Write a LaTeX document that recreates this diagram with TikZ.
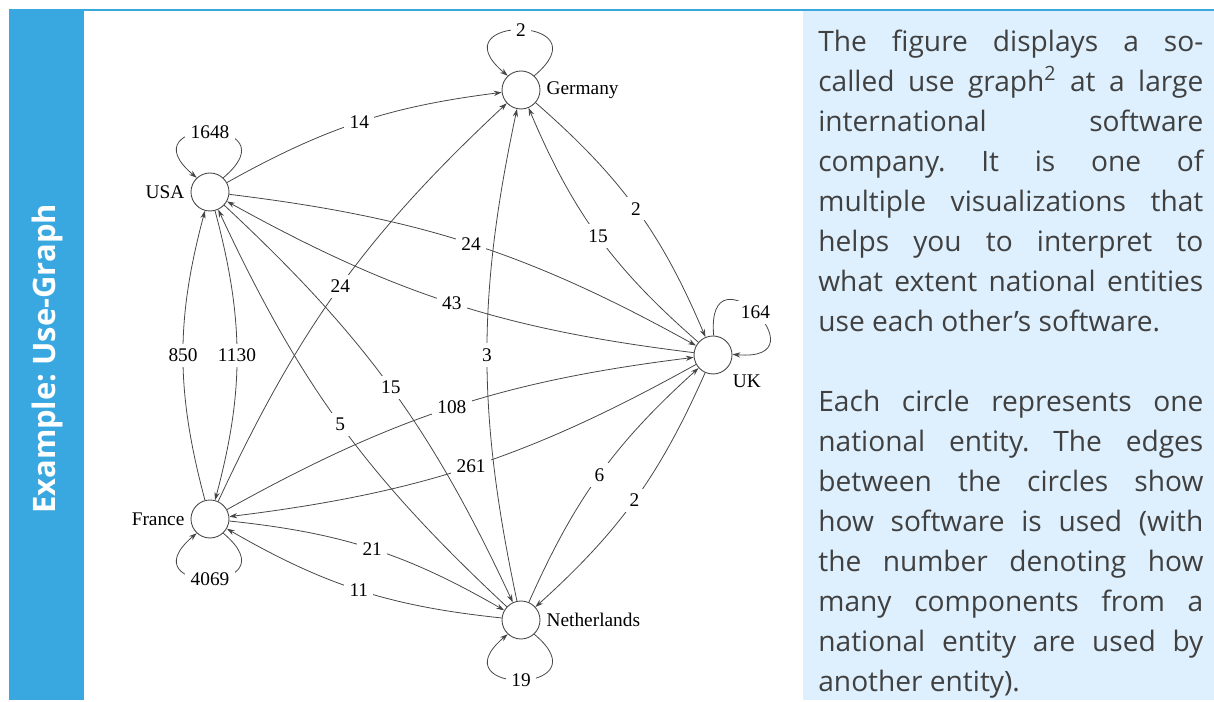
\documentclass[tikz,border=0pt]{standalone}
\usepackage{fontspec}
\setmainfont{Liberation Serif}
\newfontfamily\panelfont{Open Sans}
\usetikzlibrary{arrows.meta}

\definecolor{sidebar}{RGB}{58,168,224}
\definecolor{panel}{RGB}{222,240,253}
\definecolor{paneltext}{RGB}{64,64,64}
\definecolor{edgegray}{RGB}{70,70,70}

\begin{document}
\begin{tikzpicture}[font=\fontsize{11}{13}\selectfont]
      \tikzset{country/.style={draw=edgegray, circle, inner sep=0pt, minimum size=.76cm, line width=.5pt},
               uses/.style={draw=edgegray, line width=.45pt, -{Stealth[length=4.5pt, width=3pt]}},
               wlabel/.style={fill=white, inner sep=3pt},
               paratext/.style={anchor=base west, text width=7.7cm, align=justify, inner sep=0pt, text=paneltext,
                                font=\panelfont\fontsize{16}{22.76}\selectfont\frenchspacing}}
      \useasboundingbox (0,0) rectangle (24.28,14.04);

      % frame and side panel
      \fill[sidebar] (0.18,0.04) rectangle (1.68,13.86);
      \fill[sidebar] (1.68,13.82) rectangle (24.28,13.86);
      \fill[panel] (16.06,0.04) rectangle (24.28,13.82);
      \node[rotate=90, text=white, font=\panelfont\bfseries\fontsize{17.6}{20}\selectfont\frenchspacing] (title) at (0.94,6.86) {Example: Use-Graph};

      \node[paratext] (para1) at (16.36,13.00) {\tolerance=10000\hyphenpenalty=10000
        The figure displays a so-\linebreak called use graph\textsuperscript{2} at a large\linebreak
        international software\linebreak company. It is one of\linebreak multiple visualizations that\linebreak
        helps you to interpret to\linebreak what extent national entities\linebreak use each other’s software.};
      \node[paratext] (para2) at (16.36,5.80) {\tolerance=10000\hyphenpenalty=10000
        Each circle represents one\linebreak national entity. The edges\linebreak between the circles show\linebreak
        how software is used (with\linebreak the number denoting how\linebreak many components from a\linebreak
        national entity are used by\linebreak another entity).};

      % countries
      \node[country, label={right: Germany}] (G) at (10.42,12.24) {};
      \node[country, label={left: USA}] (US) at (4.20,10.20) {};
      \node[country, label={below right: UK}] (UK) at (14.26,6.94) {};
      \node[country, label={left: France}] (F) at (4.20,3.66) {};
      \node[country, label={right: Netherlands}] (N) at (10.42,1.64) {};

      % use edges
      \draw[uses] (US) to[bend left=11] node[wlabel] (edge1) {14} (G);
      \draw[uses] (F) to[bend left=11] node[wlabel] (edge2) {24} (G);
      \draw[uses] (N) to[bend left=12] node[wlabel] (edge3) {3} (G);
      \draw[uses] (UK) to[bend left=13] node[wlabel] (edge4) {15} (G);
      \draw[uses] (G) to[bend left=13] node[wlabel] (edge5) {2} (UK);
      \draw[uses] (US) to[bend left=11] node[wlabel] (edge6) {24} (UK);
      \draw[uses] (UK) to[bend left=11] node[wlabel] (edge7) {43} (US);
      \draw[uses] (F) to[bend left=15] node[wlabel] (edge8) {850} (US);
      \draw[uses] (US) to[bend left=15] node[wlabel] (edge9) {1130} (F);
      \draw[uses] (N) to[bend left=11] node[wlabel] (edge10) {5} (US);
      \draw[uses] (US) to[bend left=11] node[wlabel] (edge11) {15} (N);
      \draw[uses] (F) to[bend left=11] node[wlabel] (edge12) {108} (UK);
      \draw[uses] (UK) to[bend left=11] node[wlabel] (edge13) {261} (F);
      \draw[uses] (F) to[bend left=12] node[wlabel] (edge14) {21} (N);
      \draw[uses] (N) to[bend left=12] node[wlabel] (edge15) {11} (F);
      \draw[uses] (N) to[bend left=12] node[wlabel] (edge16) {6} (UK);
      \draw[uses] (UK) to[bend left=12] node[wlabel] (edge17) {2} (N);

      % self loops
      \draw[uses] (G.47) .. controls +(40:1.9) and +(140:1.9) .. (G.133) node[wlabel, midway] (loop1) {2};
      \draw[uses] (US.47) .. controls +(40:1.9) and +(140:1.9) .. (US.133) node[wlabel, midway] (loop2) {1648};
      \draw[uses] (UK.88) .. controls +(95:1.9) and +(-5:1.9) .. (UK.2) node[wlabel, midway] (loop3) {164};
      \draw[uses] (F.-47) .. controls +(-40:1.9) and +(-140:1.9) .. (F.-133) node[wlabel, midway] (loop4) {4069};
      \draw[uses] (N.-47) .. controls +(-40:1.9) and +(-140:1.9) .. (N.-133) node[wlabel, midway] (loop5) {19};
\end{tikzpicture}
\end{document}
